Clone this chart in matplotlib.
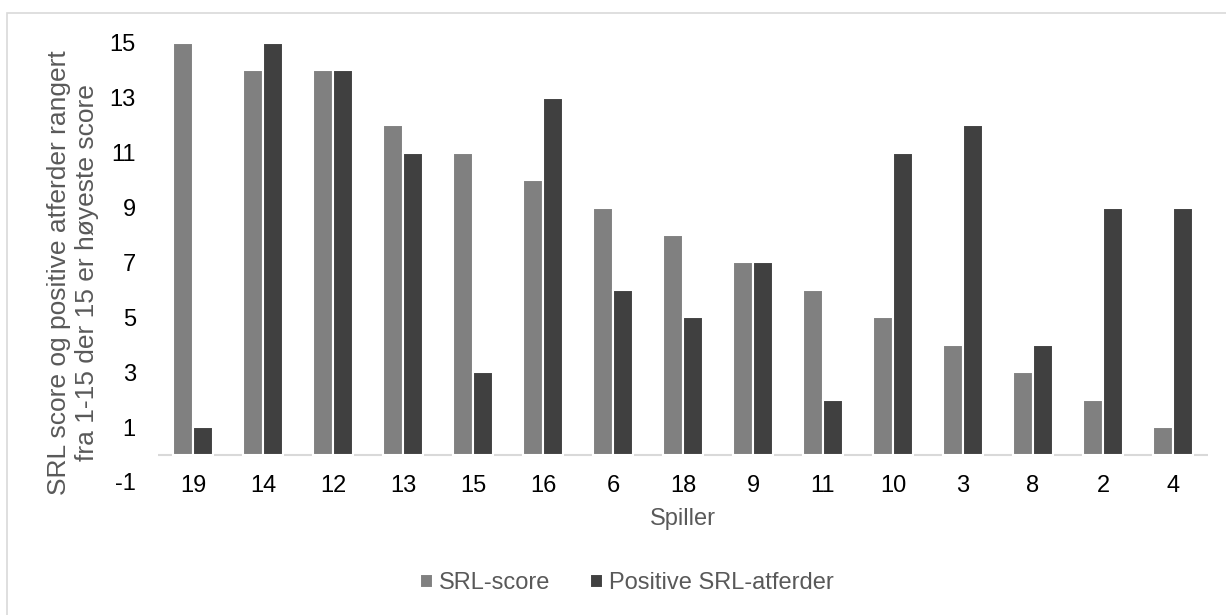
import numpy as np
import matplotlib.pyplot as plt
from matplotlib.patches import Rectangle

# Spillere sortert etter SRL-score
spillere = ["19", "14", "12", "13", "15", "16", "6", "18", "9", "11", "10", "3", "8", "2", "4"]
srl_score = [15, 14, 14, 12, 11, 10, 9, 8, 7, 6, 5, 4, 3, 2, 1]
positive_srl = [1, 15, 14, 11, 3, 13, 6, 5, 7, 2, 11, 12, 4, 9, 9]
y_ticks = [-1, 1, 3, 5, 7, 9, 11, 13, 15]

plt.rcParams["font.family"] = ["Liberation Sans", "DejaVu Sans"]
plt.rcParams["axes.unicode_minus"] = False

fig = plt.figure(figsize=(12.26, 6.15), dpi=100)
ax = fig.add_axes([0.1289, 0.2163, 0.8564, 0.7138])

# light frame round the chart (right and bottom edges fall outside)
fig.patches.append(Rectangle((7 / 1226, -10 / 615), 1240 / 1226, 612 / 615,
                             transform=fig.transFigure, fill=False,
                             edgecolor="#d9d9d9", linewidth=1.2))

x = np.arange(len(spillere))
w = 0.28
ax.bar(x - 0.14, srl_score, width=w, color="#808080", edgecolor="white",
       linewidth=1.5, label="SRL-score")
ax.bar(x + 0.14, positive_srl, width=w, color="#404040", edgecolor="white",
       linewidth=1.5, label="Positive SRL-atferder")

ax.axhline(0, color="#d9d9d9", linewidth=1.5, zorder=0)

ax.set_xlim(-0.5, len(spillere) - 0.5)
ax.set_ylim(-1, 15)
ax.set_yticks(y_ticks)
ax.set_xticks(x)
ax.set_xticklabels(spillere)
ax.tick_params(axis="both", length=0, labelsize=17, colors="black")
ax.tick_params(axis="x", pad=-5)
ax.tick_params(axis="y", pad=16)
for side in ax.spines.values():
    side.set_visible(False)

ax.set_xlabel("Spiller", fontsize=17, color="#595959", labelpad=8)
ax.set_ylabel("SRL score og positive atferder rangert\nfra 1-15 der 15 er høyeste score",
              fontsize=19, color="#595959", linespacing=1.2)
ax.yaxis.set_label_coords(-0.056, 0.478)

fig.legend(*ax.get_legend_handles_labels(), loc="center",
           bbox_to_anchor=(627 / 1226, 1 - 583 / 615), ncol=2, frameon=False,
           fontsize=17, labelcolor="#595959", handlelength=0.55, handleheight=0.55,
           handletextpad=0.25, columnspacing=1.7)

fig.savefig("out.png", dpi=100)
